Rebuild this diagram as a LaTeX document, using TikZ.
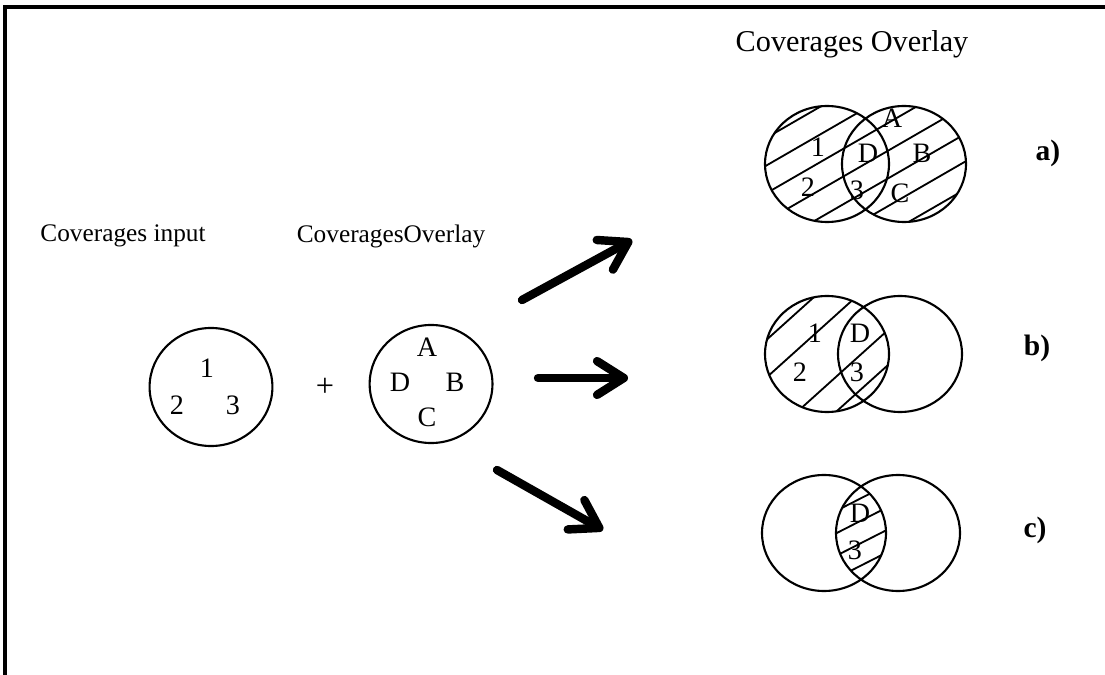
\documentclass[tikz,border=0pt]{standalone}
\usepackage{fontspec}
\setmainfont{Liberation Serif}
\usetikzlibrary{positioning,shapes.geometric,arrows.meta,calc}

\tikzset{
  cov/.style={ellipse,draw,line width=1.5pt,minimum width=3.07cm,minimum height=2.95cm,inner sep=0pt},
  txt/.style={font=\fontsize{18}{20}\selectfont,inner sep=0pt},
  lbl/.style={font=\fontsize{20}{22}\selectfont,inner sep=0pt},
  tag/.style={font=\fontsize{21}{23}\selectfont\bfseries,inner sep=0pt},
  ring/.style={line width=1.5pt},
  hatch/.style={line width=1.3pt},
  bigarrow/.style={line width=6pt,line cap=round,-{Straight Barb[length=19pt,width=24pt,round]}}
}

\begin{document}
\begin{tikzpicture}[x=0.025cm,y=-0.025cm,node distance=2cm,on grid]
\useasboundingbox (0,0) rectangle (1105,675);
% frame
\draw[line width=2.2pt] (5,675) -- (5,7) -- (1105,7);

% inputs
\node[txt] (tin) at (123,236) {Coverages input};
\node[txt] (tov) at (391,236) {CoveragesOverlay};
\node[cov] (cin) at (211,387) {};
\node[lbl,font=\fontsize{23}{25}\selectfont] (plus) [right=2.85cm of cin] {+};
\node[cov] (cov) [right=5.5cm of cin,yshift=0.075cm] {};
\node[lbl] (n1) at (207,368) {1};
\node[lbl] (n2) at (177,405) {2};
\node[lbl] (n3) at (233,405) {3};
\node[lbl] (lA) at (427,347) {A};
\node[lbl] (lD) at (400,382) {D};
\node[lbl] (lB) at (455,382) {B};
\node[lbl] (lC) at (427,417) {C};

% arrows
\coordinate (s1) at (522,300);
\coordinate (e1) at (632,240);
\coordinate (s2) at (538,378);
\coordinate (e2) at (628,378);
\coordinate (s3) at (497,470);
\coordinate (e3) at (603,530);
\draw[bigarrow] (s1) -- (e1);
\draw[bigarrow] (s2) -- (e2);
\draw[bigarrow] (s3) -- (e3);

% results
\node[txt,font=\fontsize{21.5}{24}\selectfont] (ttop) at (852,44) {Coverages Overlay};

% a)
\coordinate (aL) at (827,164);
\coordinate (aR) at (904,164);
\begin{scope}
  \clip (aL) circle[x radius=62,y radius=58] (aR) circle[x radius=62,y radius=58];
  \foreach \k in {-7,...,7}
    \draw[hatch,rotate around={30:(865,164)}] (705,164+\k*24) -- (1025,164+\k*24);
\end{scope}
\draw[ring] (aL) circle[x radius=62,y radius=58] (aR) circle[x radius=62,y radius=58];
\node[lbl] (a1) at (818,147) {1};
\node[lbl] (a2) at (808,187) {2};
\node[lbl] (aD) at (868,153) {D};
\node[lbl] (a3) at (857,190) {3};
\node[lbl] (aA) at (892,118) {A};
\node[lbl] (aB) at (922,153) {B};
\node[lbl] (aC) at (900,193) {C};
\node[tag] (ta) at (1048,153) {a)};

% b)
\coordinate (bL) at (827,354);
\coordinate (bR) at (900,354);
\begin{scope}
  \clip (bL) circle[x radius=62,y radius=58];
  \foreach \d in {-51,-23,23,49}
    \draw[hatch,rotate around={42:(827,354)}] (727,354+\d) -- (927,354+\d);
\end{scope}
\draw[ring] (bL) circle[x radius=62,y radius=58] (bR) circle[x radius=62,y radius=58];
\node[lbl] (b1) at (815,333) {1};
\node[lbl] (b2) at (800,372) {2};
\node[lbl] (bD) at (860,333) {D};
\node[lbl] (b3) at (857,372) {3};
\node[tag] (tb) at (1037,348) {b)};

% c)
\coordinate (cL) at (824,533);
\coordinate (cR) at (898,533);
\begin{scope}
  \clip (cL) circle[x radius=62,y radius=58];
  \clip (cR) circle[x radius=62,y radius=58];
  \foreach \k in {-2,...,3}
    \draw[hatch,rotate around={27:(861,533)}] (780,522+\k*20) -- (940,522+\k*20);
\end{scope}
\draw[ring] (cL) circle[x radius=62,y radius=58] (cR) circle[x radius=62,y radius=58];
\node[lbl] (cD) at (860,513) {D};
\node[lbl] (c3) at (855,550) {3};
\node[tag] (tc) at (1035,530) {c)};
\end{tikzpicture}
\end{document}
